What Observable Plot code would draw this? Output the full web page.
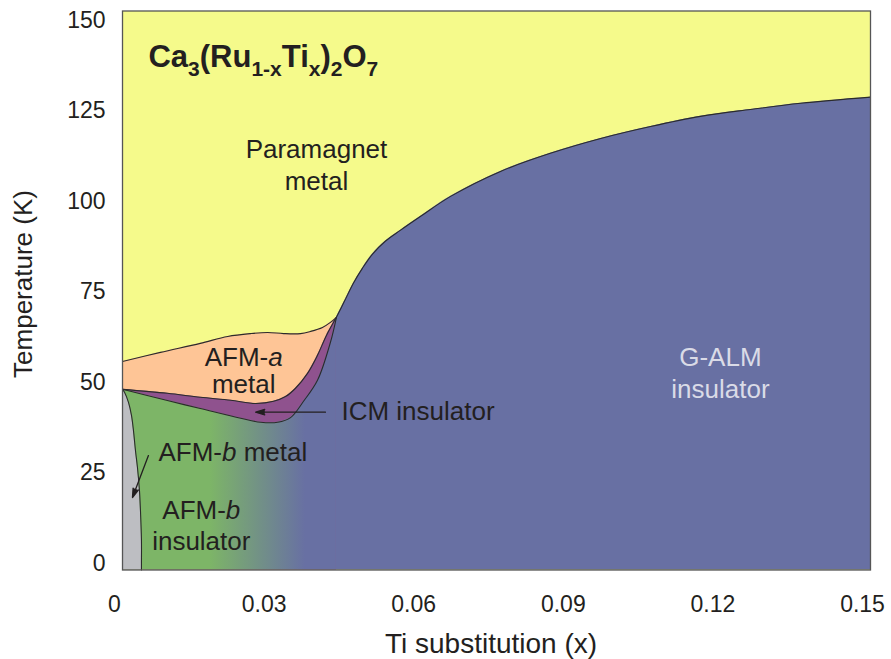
<!DOCTYPE html>
<html>
<head>
<meta charset="utf-8">
<script src="https://cdn.jsdelivr.net/npm/d3@7"></script>
<script src="https://cdn.jsdelivr.net/npm/@observablehq/plot@0.6"></script>
<style>
  html, body { margin: 0; padding: 0; background: #fff; }
  #chart svg { display: block; }
</style>
</head>
<body>
<div id="chart"></div>
<script>
// Phase diagram of Ca3(Ru1-xTix)2O7: Ti substitution x against temperature T (K)

// Paramagnet metal / AFM-a metal boundary
const paraX = [0, 0.0076, 0.0156, 0.0211, 0.0257, 0.0291, 0.0323, 0.0357, 0.0377, 0.0401, 0.0417, 0.0429];
const paraT = [55.8, 58.3, 60.8, 62.7, 63.5, 63.8, 63.5, 63.5, 64.1, 65.2, 66.6, 68.0];

// Onset of the G-ALM insulator
const galmX = [0.0429, 0.0445, 0.0463, 0.0481, 0.0501, 0.0527, 0.0557, 0.0598, 0.0658, 0.0758, 0.0858, 0.0959, 0.1059, 0.1159, 0.1259, 0.136, 0.15];
const galmT = [68.0, 72.4, 77.4, 81.5, 85.4, 89.0, 92.0, 95.9, 101.4, 108.3, 113.3, 117.4, 120.7, 123.5, 125.4, 127.1, 128.8];

// ICM insulator pocket: upper edge (AFM-a side) and lower edge (AFM-b side)
const icmTopX = [0, 0.009, 0.0156, 0.0217, 0.0267, 0.0303, 0.0327, 0.0347, 0.0371, 0.0391, 0.0409, 0.0429];
const icmTopT = [48.1, 47.0, 45.9, 45.1, 44.2, 44.8, 46.1, 48.4, 52.5, 57.5, 63.0, 68.0];
const icmBotX = [0, 0.009, 0.0156, 0.0237, 0.0277, 0.0311, 0.0337, 0.0363, 0.0391, 0.0417, 0.0429];
const icmBotT = [48.1, 45.0, 42.8, 40.1, 39.0, 39.0, 40.3, 44.8, 50.6, 61.1, 68.0];

// AFM-b metal / AFM-b insulator boundary
const afmbX = [0, 0.0004, 0.0012, 0.0018, 0.0022, 0.0026, 0.003, 0.0034, 0.0036, 0.0038, 0.0038];
const afmbT = [48.1, 47.3, 44.5, 40.9, 36.7, 31.2, 26.5, 20.2, 14.7, 6.4, 0];

// Axis ticks
const xTicks = [0, 0.03, 0.06, 0.09, 0.12, 0.15];
const yTicks = [0, 25, 50, 75, 100, 125, 150];

// Phase names
const phaseNames = ["Paramagnet\nmetal", "AFM-a\nmetal", "ICM insulator", "AFM-b metal", "AFM-b\ninsulator", "G-ALM\ninsulator"];
const formula = "Ca3(Ru1-xTix)2O7";
const formulaParts = [["Ca", 0], ["3", 1], ["(Ru", 0], ["1-x", 1], ["Ti", 0], ["x", 1], [")", 0], ["2", 1], ["O", 0], ["7", 1]];

// Pointers from labels to the narrow phases
const pointers = [
  {x1: 0.0407, y1: 41.8, x2: 0.0267, y2: 41.8},
  {x1: 0.0052, y1: 29.8, x2: 0.002, y2: 18.2}
];

// ---- scales and styling ----
const xDomain = [0, 0.15];
const tDomain = [-1.8, 152.6];
const fadeRange = [0.0176, 0.0367]; // where AFM-b green fades into the G-ALM blue

const colors = {
  para: "#f5fa8b", afma: "#fec596", icm: "#8f528e", afmb: "#7db567",
  galm: "#6870a3", ins: "#bdbec2", line: "#2b2b2b", ink: "#231f20", light: "#dadbe7"
};
const font = "'Liberation Sans', Arial, Helvetica, sans-serif";

const pts = (xs, ts) => xs.map((x, i) => ({x, t: ts[i]}));
const para = pts(paraX, paraT);
const galm = pts(galmX, galmT);
const icmTop = pts(icmTopX, icmTopT);
const icmBot = pts(icmBotX, icmBotT);
const afmb = pts(afmbX, afmbT);
afmb.push({x: afmbX[afmbX.length - 1], t: tDomain[0]});

const curve = "catmull-rom";
const base = tDomain[0];
const edge = {stroke: colors.line, strokeWidth: 1.1, curve};

const chart = Plot.plot({
  width: 891,
  height: 659,
  marginLeft: 122,
  marginRight: 21,
  marginTop: 10.5,
  marginBottom: 89.5,
  style: {fontFamily: font, fontSize: "23px", color: colors.ink, background: "#fff"},
  x: {domain: xDomain},
  y: {domain: tDomain},
  marks: [
    Plot.frame({fill: colors.para}),
    Plot.areaY(para, {x: "x", y1: base, y2: "t", fill: colors.afma, curve}),
    Plot.areaY(icmTop, {x: "x", y1: base, y2: "t", fill: colors.icm, curve}),
    Plot.areaY(icmBot, {x: "x", y1: base, y2: "t", fill: "url(#afmb-fade)", curve}),
    Plot.areaY(galm, {x: "x", y1: base, y2: "t", fill: colors.galm, curve}),
    Plot.areaX(afmb, {y: "t", x1: 0, x2: "x", fill: colors.ins, curve}),
    Plot.line(para, {x: "x", y: "t", ...edge}),
    Plot.line(galm, {x: "x", y: "t", ...edge}),
    Plot.line(icmTop, {x: "x", y: "t", ...edge}),
    Plot.line(icmBot, {x: "x", y: "t", ...edge}),
    Plot.line(afmb, {x: "x", y: "t", ...edge}),
    Plot.frame({stroke: "#555", strokeWidth: 1.3}),
    Plot.axisX({ticks: xTicks, tickFormat: d => d === 0 ? "0" : d.toFixed(2), tickSize: 0, tickPadding: 26, dx: -8, label: null, fontSize: 23}),
    Plot.axisY({ticks: yTicks, tickSize: 0, tickPadding: 17, label: null, fontSize: 23}),
    Plot.text(["Ti substitution (x)"], {frameAnchor: "bottom", textAnchor: "middle", lineAnchor: "middle", dx: -5.5, dy: 74, fontSize: 28, fill: colors.ink}),
    Plot.text(["Temperature (K)"], {frameAnchor: "left", textAnchor: "middle", lineAnchor: "middle", dx: -99, dy: -6.5, rotate: -90, fontSize: 26, fill: colors.ink}),
    Plot.text([formula], {x: 0.0052, y: 137, textAnchor: "start", lineAnchor: "bottom", fontSize: 31, fontWeight: "bold", fill: colors.ink}),
    Plot.text([phaseNames[0]], {x: 0.0389, y: 110.5, fontSize: 26, lineHeight: 1.23, fill: colors.ink}),
    Plot.text([phaseNames[1]], {x: 0.0243, y: 53.2, fontSize: 26, lineHeight: 1.04, fill: colors.ink}),
    Plot.text([phaseNames[2]], {x: 0.0439, y: 42.0, textAnchor: "start", fontSize: 26, fill: colors.ink}),
    Plot.text([phaseNames[3]], {x: 0.0072, y: 30.7, textAnchor: "start", fontSize: 26, fill: colors.ink}),
    Plot.text([phaseNames[4]], {x: 0.0158, y: 10.7, fontSize: 26, lineHeight: 1.2, fill: colors.ink}),
    Plot.text([phaseNames[5]], {x: 0.1199, y: 53.0, fontSize: 26, lineHeight: 1.23, fill: colors.light}),
    Plot.arrow(pointers, {x1: "x1", y1: "y1", x2: "x2", y2: "y2", stroke: colors.ink, fill: colors.ink, strokeWidth: 1.3, strokeLinejoin: "miter", headLength: 11, headAngle: 34})
  ]
});

// horizontal green-to-blue fade across the AFM-b region
const xs = chart.scale("x");
const defs = d3.select(chart).insert("defs", ":first-child");
const grad = defs.append("linearGradient")
  .attr("id", "afmb-fade")
  .attr("gradientUnits", "userSpaceOnUse")
  .attr("x1", xs.apply(fadeRange[0])).attr("x2", xs.apply(fadeRange[1]))
  .attr("y1", 0).attr("y2", 0);
grad.append("stop").attr("offset", 0).attr("stop-color", colors.afmb);
grad.append("stop").attr("offset", 1).attr("stop-color", colors.galm);

// italic a / b in the AFM phase names
d3.select(chart).selectAll("text, tspan").each(function () {
  for (const node of Array.from(this.childNodes)) {
    if (node.nodeType !== 3) continue;
    const m = node.nodeValue.match(/^(.*AFM-)([ab])(.*)$/);
    if (!m) continue;
    const frag = document.createDocumentFragment();
    frag.append(m[1]);
    const it = document.createElementNS("http://www.w3.org/2000/svg", "tspan");
    it.setAttribute("font-style", "italic");
    it.textContent = m[2];
    frag.append(it);
    if (m[3]) frag.append(m[3]);
    node.replaceWith(frag);
  }
});

// chemical formula with subscripts
d3.select(chart).selectAll("text").filter(function () { return this.textContent === formula; })
  .each(function () {
    const t = d3.select(this).text("");
    let down = false;
    for (const [s, sub] of formulaParts) {
      const span = t.append("tspan").text(s);
      if (sub) {
        span.attr("font-size", 21).attr("dy", down ? null : 9);
        down = true;
      } else if (down) {
        span.attr("dy", -9);
        down = false;
      }
    }
  });

document.getElementById("chart").append(chart);
</script>
</body>
</html>
